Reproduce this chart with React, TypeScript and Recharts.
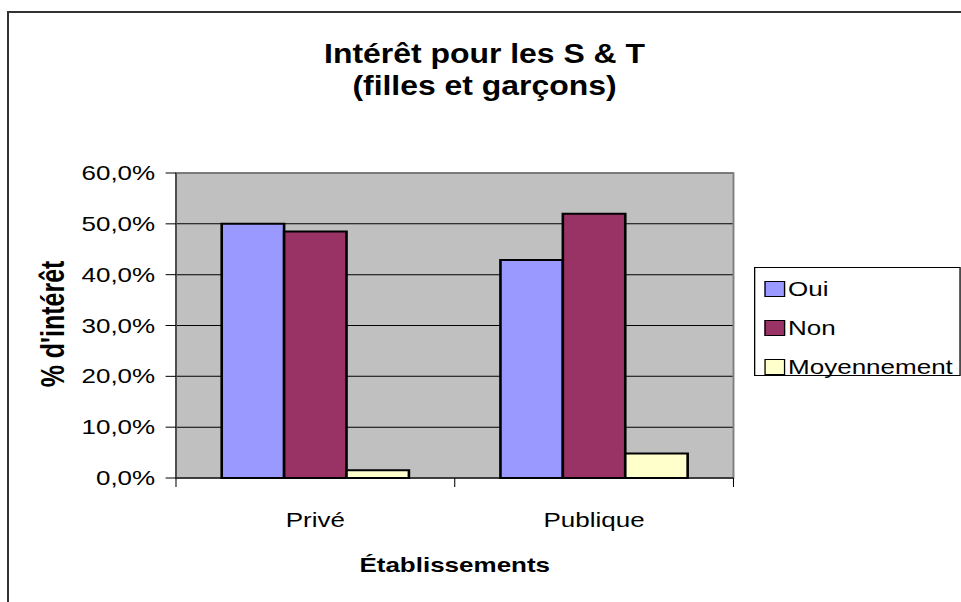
import * as React from "react";
import {
  Bar,
  BarChart,
  CartesianGrid,
  Label,
  Legend,
  ReferenceArea,
  XAxis,
  YAxis,
} from "recharts";

// values in percent
const categories = ["Privé", "Publique"];
const oui = [50.0, 42.9];
const non = [48.5, 52.0];
const moyennement = [1.5, 4.8];
const yTicks = [0, 10, 20, 30, 40, 50, 60];

const seriesKeys = ["oui", "non", "moyennement"];
const seriesNames = ["Oui", "Non", "Moyennement"];
const seriesColors = ["#9999FF", "#993366", "#FFFFCC"];

const data = categories.map((name, i) => ({
  name,
  oui: oui[i],
  non: non[i],
  moyennement: moyennement[i],
}));

// the source picture is stretched sideways, so the chart is drawn narrow and scaled
const S = 1.3;
const W = 961 / S;
const H = 602;
const PLOT_LEFT = 176 / S;
const PLOT_RIGHT = 733.5 / S;
const PLOT_TOP = 173;
const PLOT_BOTTOM = 478;
const X_AXIS_H = 40;
const HALF_BAND = (PLOT_RIGHT - PLOT_LEFT) / categories.length / 2;
const FONT = '"Liberation Sans", Arial, sans-serif';

const fmt = (v: number) => `${v.toFixed(1).replace(".", ",")}%`;

function CategoryTick(props: any) {
  const { x, payload, index } = props;
  const last = index === categories.length - 1 || payload?.value === categories[categories.length - 1];
  return (
    <g>
      <line x1={x - HALF_BAND} x2={x - HALF_BAND} y1={PLOT_BOTTOM} y2={PLOT_BOTTOM + 9} stroke="#000" strokeWidth={0.8} />
      {last && (
        <line x1={x + HALF_BAND} x2={x + HALF_BAND} y1={PLOT_BOTTOM} y2={PLOT_BOTTOM + 9} stroke="#000" strokeWidth={0.8} />
      )}
      <text x={x} y={527} textAnchor="middle" fontSize={20} fontFamily={FONT} fill="#000">
        {payload.value}
      </text>
    </g>
  );
}

// drawn in series order (Recharts would sort the items by name)
function LegendBox() {
  return (
    <div
      style={{
        width: "100%",
        height: "100%",
        boxSizing: "border-box",
        border: "1px solid #000",
        background: "#fff",
        paddingTop: 1,
        fontFamily: FONT,
        fontSize: 20,
        color: "#000",
      }}
    >
      {seriesNames.map((name, i) => (
        <div key={name} style={{ height: 39.4, display: "flex", alignItems: "center", paddingLeft: 7 }}>
          <span
            style={{
              display: "inline-block",
              width: 16,
              height: 16,
              boxSizing: "border-box",
              background: seriesColors[i],
              border: "1.5px solid #000",
              marginRight: 2,
            }}
          />
          <span style={{ lineHeight: "20px" }}>{name}</span>
        </div>
      ))}
    </div>
  );
}

export default function App() {
  return (
    <div
      style={{
        position: "absolute",
        left: 0,
        top: 0,
        width: 961,
        height: 602,
        overflow: "hidden",
        background: "#fff",
      }}
    >
      <div
        style={{
          position: "absolute",
          left: 7,
          top: 11,
          width: 1000,
          height: 700,
          borderTop: "2px solid #333",
          borderLeft: "2px solid #333",
        }}
      />
      <div
        style={{
          position: "absolute",
          left: 0,
          top: 0,
          width: W,
          height: H,
          transform: `scaleX(${S})`,
          transformOrigin: "0 0",
        }}
      >
        <BarChart
          width={W}
          height={H}
          data={data}
          margin={{ top: PLOT_TOP, right: W - PLOT_RIGHT, bottom: H - PLOT_BOTTOM - X_AXIS_H, left: 0 }}
          barCategoryGap="16.4%"
          barGap={0}
        >
          <CartesianGrid vertical={false} stroke="#000" strokeWidth={1} fill="#C0C0C0" fillOpacity={1} />
          <ReferenceArea y1={0} y2={60} fill="none" stroke="#808080" strokeWidth={1.5} />
          <XAxis
            dataKey="name"
            height={X_AXIS_H}
            axisLine={{ stroke: "#000", strokeWidth: 1 }}
            tickLine={false}
            tick={(p: any) => <CategoryTick {...p} />}
            interval={0}
          >
            <Label
              content={(p: any) => {
                const vb = p.viewBox || {};
                return (
                  <text
                    x={vb.x + vb.width / 2}
                    y={572}
                    textAnchor="middle"
                    fontSize={20}
                    fontWeight="bold"
                    fontFamily={FONT}
                    fill="#000"
                  >
                    Établissements
                  </text>
                );
              }}
            />
          </XAxis>
          <YAxis
            width={PLOT_LEFT}
            domain={[0, 60]}
            ticks={yTicks}
            interval={0}
            tickFormatter={fmt}
            tickSize={8}
            tickMargin={8}
            axisLine={{ stroke: "#333", strokeWidth: 1 }}
            tickLine={{ stroke: "#000", strokeWidth: 1 }}
            tick={{ fontSize: 20, fontFamily: FONT, fill: "#000" }}
          >
            <Label
              content={() => (
                <text
                  x={49}
                  y={324}
                  transform="rotate(-90 49 324)"
                  textAnchor="middle"
                  fontSize={25}
                  fontWeight="bold"
                  fontFamily={FONT}
                  fill="#000"
                >
                  % d'intérêt
                </text>
              )}
            />
          </YAxis>
          <Legend
            layout="vertical"
            align="center"
            verticalAlign="middle"
            content={() => <LegendBox />}
            wrapperStyle={{ left: 754.3 / S, top: 267, width: (960.5 - 754.3) / S, height: 109 }}
          />
          {seriesKeys.map((key, i) => (
            <Bar
              key={key}
              dataKey={key}
              name={seriesNames[i]}
              fill={seriesColors[i]}
              stroke="#000"
              strokeWidth={2}
              isAnimationActive={false}
            />
          ))}
        </BarChart>
      </div>
      <svg width={961} height={120} style={{ position: "absolute", left: 0, top: 0, pointerEvents: "none" }}>
        <g transform="translate(484.5 0) scale(1.14 1)" fontFamily={FONT} fontWeight="bold" fontSize={28} fill="#000">
          <text x={0} y={63} textAnchor="middle">
            Intérêt pour les S &amp; T
          </text>
          <text x={0} y={95} textAnchor="middle">
            (filles et garçons)
          </text>
        </g>
      </svg>
    </div>
  );
}
